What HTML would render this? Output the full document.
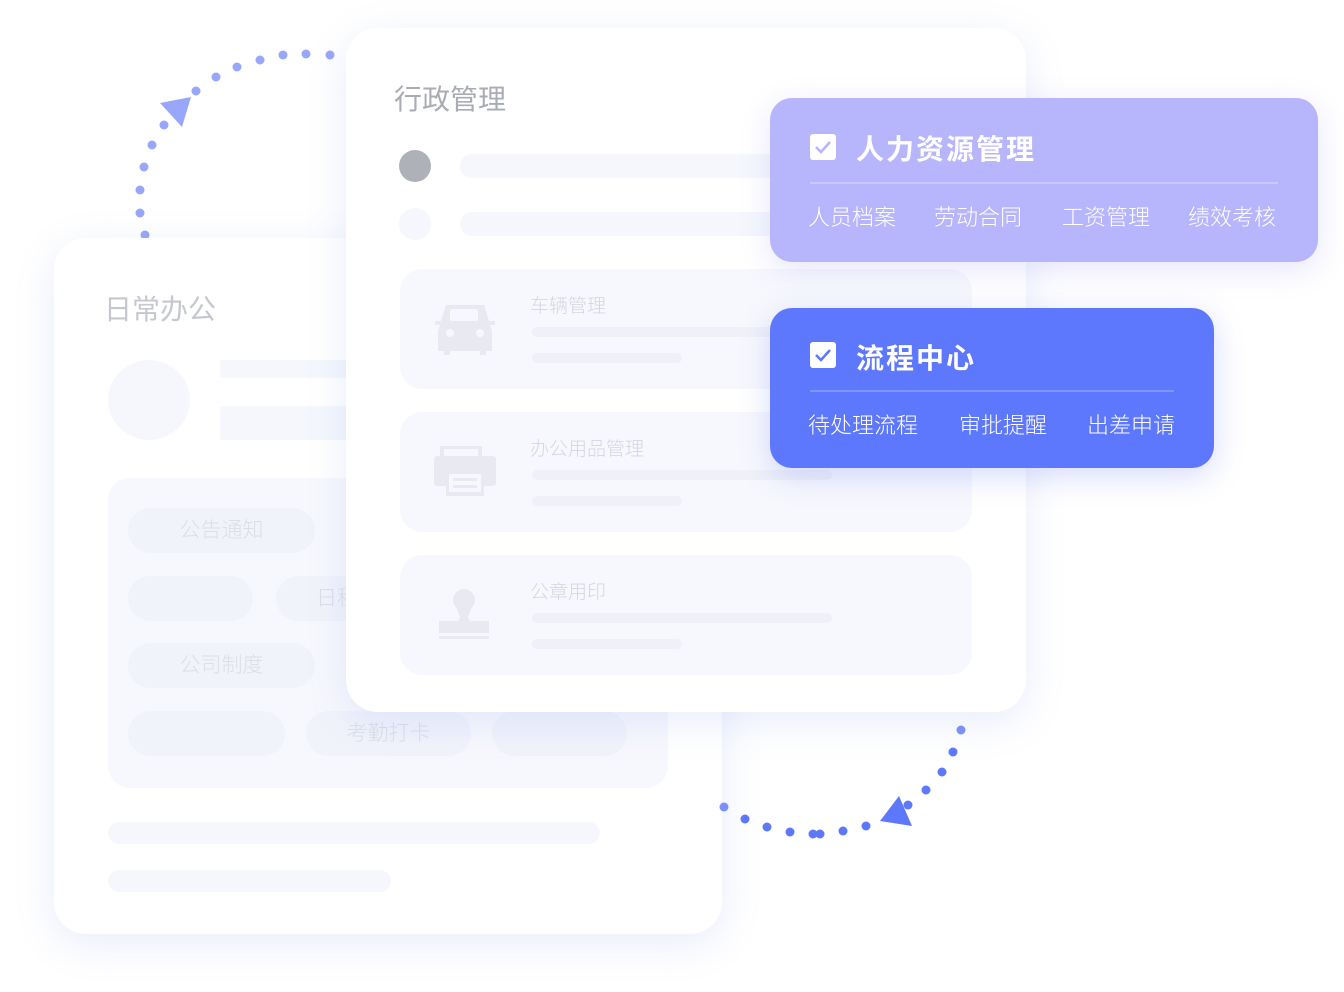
<!DOCTYPE html>
<html><head><meta charset="utf-8"><style>
*{margin:0;padding:0;box-sizing:border-box}
body{width:1344px;height:992px;background:#fff;position:relative;overflow:hidden;font-family:"Liberation Sans","Noto Sans CJK SC",sans-serif}
.abs{position:absolute}
.card{position:absolute;background:#fff;border-radius:32px;box-shadow:0 10px 40px rgba(120,140,230,0.16)}
.bar{position:absolute;background:#f5f7fd;border-radius:12px}
.pill{position:absolute;background:#f1f3fb;border-radius:23px;color:#dcdee6;font-size:21px;text-align:center;line-height:45px;height:45px;font-weight:300}
.row{position:absolute;left:54px;width:572px;height:120px;background:#f7f8fd;border-radius:22px}
.row .t{position:absolute;left:130px;top:22px;font-size:19px;color:#d4d6de;font-weight:300}
.row .b1{position:absolute;left:132px;top:58px;width:300px;height:10px;border-radius:5px;background:#f0f1f8}
.row .b2{position:absolute;left:132px;top:84px;width:150px;height:10px;border-radius:5px;background:#f0f1f8}
.chk{position:absolute;width:26px;height:26px;background:#fff;border-radius:3px}
.sub{position:absolute;font-size:22px;color:#fff;font-weight:300}
</style></head><body>

<svg class="abs" style="left:0;top:0" width="1344" height="992">
<g fill="#98a6fb">
<circle cx="145" cy="235" r="4.5"/><circle cx="140" cy="213" r="4.5"/><circle cx="140" cy="190" r="4.5"/><circle cx="144" cy="167" r="4.5"/><circle cx="152" cy="145" r="4.5"/><circle cx="164" cy="125" r="4.5"/>
<polygon points="160,103 191,97 182,127"/>
<circle cx="196" cy="91" r="4.5"/><circle cx="216" cy="77" r="4.5"/><circle cx="237" cy="67" r="4.5"/><circle cx="260" cy="60" r="4.5"/><circle cx="283" cy="55" r="4.5"/><circle cx="306" cy="54" r="4.5"/><circle cx="330" cy="55" r="4.5"/>
</g>
</svg>

<div class="card" style="left:54px;top:238px;width:668px;height:696px">
  <div class="abs" style="left:50px;top:50px;font-size:28px;color:#c6c8d0">日常办公</div>
  <div class="abs" style="left:54px;top:122px;width:82px;height:80px;border-radius:50%;background:#f5f7fd"></div>
  <div class="abs" style="left:166px;top:122px;width:200px;height:18px;background:#f5f7fd"></div>
  <div class="abs" style="left:166px;top:168px;width:200px;height:34px;background:#f5f7fd"></div>
  <div class="abs" style="left:54px;top:240px;width:560px;height:310px;background:#f7f8fd;border-radius:22px">
    <div class="pill" style="left:20px;top:30px;width:187px">公告通知</div>
    <div class="pill" style="left:20px;top:98px;width:125px"></div>
    <div class="pill" style="left:168px;top:98px;width:140px;text-align:left;padding-left:40px">日程</div>
    <div class="pill" style="left:20px;top:165px;width:187px">公司制度</div>
    <div class="pill" style="left:20px;top:233px;width:157px"></div>
    <div class="pill" style="left:198px;top:233px;width:165px">考勤打卡</div>
    <div class="pill" style="left:384px;top:233px;width:135px"></div>
  </div>
  <div class="bar" style="left:54px;top:584px;width:492px;height:22px"></div>
  <div class="bar" style="left:54px;top:632px;width:283px;height:22px"></div>
</div>

<div class="card" style="left:346px;top:28px;width:680px;height:684px">
  <div class="abs" style="left:48px;top:50px;font-size:28px;color:#a9abb5">行政管理</div>
  <div class="abs" style="left:53px;top:122px;width:32px;height:32px;border-radius:50%;background:#afb1b8"></div>
  <div class="abs" style="left:114px;top:126px;width:400px;height:24px;border-radius:12px;background:#f5f7fd"></div>
  <div class="abs" style="left:53px;top:180px;width:32px;height:32px;border-radius:50%;background:#f5f7fd"></div>
  <div class="abs" style="left:114px;top:184px;width:400px;height:24px;border-radius:12px;background:#f5f7fd"></div>
  <div class="row" style="top:241px">
    <svg class="abs" style="left:34px;top:32px" width="62" height="54"><g fill="#e9eaf1"><path d="M12 4 h38 l5 16 h6 v4 h-5 l2 6 v20 h-6 v4 h-6 v-4 h-30 v4 h-6 v-4 h-6 v-20 l2 -6 h-5 v-4 h6z"/></g><rect x="16" y="8" width="28" height="12" rx="2" fill="#f7f8fd"/><circle cx="16" cy="32" r="4" fill="#f7f8fd"/><circle cx="46" cy="32" r="4" fill="#f7f8fd"/></svg>
    <div class="t">车辆管理</div><div class="b1"></div><div class="b2"></div>
  </div>
  <div class="row" style="top:384px">
    <svg class="abs" style="left:34px;top:32px" width="64" height="56"><rect x="6" y="2" width="42" height="10" fill="#e9eaf1"/><rect x="10" y="5" width="34" height="7" fill="#f7f8fd"/><rect x="0" y="12" width="62" height="30" rx="3" fill="#e9eaf1"/><rect x="12" y="26" width="38" height="26" fill="#e9eaf1"/><rect x="15" y="30" width="32" height="18" fill="#f7f8fd"/><rect x="19" y="34" width="24" height="3" fill="#e9eaf1"/><rect x="19" y="41" width="24" height="3" fill="#e9eaf1"/></svg>
    <div class="t">办公用品管理</div><div class="b1"></div><div class="b2"></div>
  </div>
  <div class="row" style="top:527px">
    <svg class="abs" style="left:34px;top:28px" width="60" height="64"><circle cx="30" cy="17" r="11" fill="#e9eaf1"/><path d="M22 24 l4 10 l-2 4 h12 l-2 -4 l4 -10z" fill="#e9eaf1"/><rect x="5" y="38" width="50" height="12" fill="#e9eaf1"/><rect x="5" y="53" width="50" height="3" fill="#e9eaf1"/></svg>
    <div class="t">公章用印</div><div class="b1"></div><div class="b2"></div>
  </div>
</div>

<div class="abs" style="left:770px;top:98px;width:548px;height:164px;background:#b7b5fb;border-radius:22px;box-shadow:0 8px 30px rgba(130,130,240,0.2)">
  <div class="chk" style="left:40px;top:36px"><svg width="26" height="26"><path d="M6 13 l5 5 l9 -10" stroke="#b7b5fb" stroke-width="2.5" fill="none"/></svg></div>
  <div class="abs" style="left:86px;top:30px;font-size:28px;color:#fff;font-weight:bold;letter-spacing:2px">人力资源管理</div>
  <div class="abs" style="left:40px;top:84px;width:468px;height:2px;background:#c9c8fc"></div>
  <div class="sub" style="left:38px;top:102px">人员档案</div>
  <div class="sub" style="left:164px;top:102px">劳动合同</div>
  <div class="sub" style="left:292px;top:102px">工资管理</div>
  <div class="sub" style="left:418px;top:102px">绩效考核</div>
</div>

<div class="abs" style="left:770px;top:308px;width:444px;height:160px;background:#5e78fd;border-radius:22px;box-shadow:0 8px 30px rgba(90,110,240,0.25)">
  <div class="chk" style="left:40px;top:34px"><svg width="26" height="26"><path d="M6 13 l5 5 l9 -10" stroke="#5e78fd" stroke-width="2.5" fill="none"/></svg></div>
  <div class="abs" style="left:86px;top:29px;font-size:28px;color:#fff;font-weight:bold;letter-spacing:2px">流程中心</div>
  <div class="abs" style="left:40px;top:82px;width:364px;height:2px;background:#8196fb"></div>
  <div class="sub" style="left:38px;top:100px">待处理流程</div>
  <div class="sub" style="left:189px;top:100px">审批提醒</div>
  <div class="sub" style="left:317px;top:100px">出差申请</div>
</div>

<svg class="abs" style="left:0;top:0" width="1344" height="992">
<g fill="#5e78fd">
<circle cx="724" cy="807" r="4.5" fill="#7d8ff8"/><circle cx="745" cy="819" r="4.5"/><circle cx="767" cy="827" r="4.5"/><circle cx="790" cy="832" r="4.5"/><circle cx="813" cy="834" r="4.5"/><circle cx="820" cy="834" r="4.5"/><circle cx="843" cy="831" r="4.5"/><circle cx="866" cy="826" r="4.5"/>
<polygon points="880,821 899,796 912,826"/>
<circle cx="908" cy="805" r="4.5"/><circle cx="926" cy="790" r="4.5"/><circle cx="942" cy="772" r="4.5"/><circle cx="953" cy="752" r="4.5"/><circle cx="961" cy="730" r="4.5" fill="#7d8ff8"/>
</g>
</svg>
</body></html>
